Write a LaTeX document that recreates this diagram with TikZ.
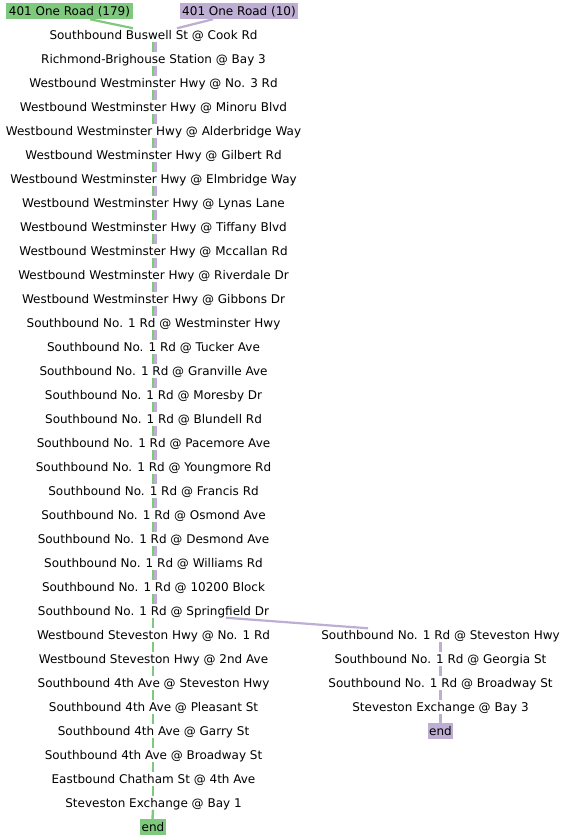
\documentclass[tikz,border=0pt]{standalone}
\usepackage{fontspec}
\setmainfont{DejaVu Sans}
\definecolor{rgreen}{HTML}{7FC97F}
\definecolor{rpurple}{HTML}{BEAED4}
\begin{document}
\begin{tikzpicture}[x=1pt,y=-1pt,
  stop/.style={inner sep=0pt, text height=10.9pt, text depth=2.2pt, font=\fontsize{12}{14}\selectfont},
  hdr/.style={stop, inner xsep=2.5pt, inner ysep=1.5pt},
  endbox/.style={stop, inner xsep=1.2pt, inner ysep=1pt},
  gline/.style={draw=rgreen, line width=2.4pt},
  pline/.style={draw=rpurple, line width=2.4pt}]
\useasboundingbox (0,0) rectangle (567,840);
\node[hdr, fill=rgreen] (hg) at (69.5,11) {401 One Road (179)};
\node[hdr, fill=rpurple] (hp) at (239,11) {401 One Road (10)};
\foreach \t [count=\k] in {
 {Southbound Buswell St @ Cook Rd},
 {Richmond-Brighouse Station @ Bay 3},
 {Westbound Westminster Hwy @ No. 3 Rd},
 {Westbound Westminster Hwy @ Minoru Blvd},
 {Westbound Westminster Hwy @ Alderbridge Way},
 {Westbound Westminster Hwy @ Gilbert Rd},
 {Westbound Westminster Hwy @ Elmbridge Way},
 {Westbound Westminster Hwy @ Lynas Lane},
 {Westbound Westminster Hwy @ Tiffany Blvd},
 {Westbound Westminster Hwy @ Mccallan Rd},
 {Westbound Westminster Hwy @ Riverdale Dr},
 {Westbound Westminster Hwy @ Gibbons Dr},
 {Southbound No. 1 Rd @ Westminster Hwy},
 {Southbound No. 1 Rd @ Tucker Ave},
 {Southbound No. 1 Rd @ Granville Ave},
 {Southbound No. 1 Rd @ Moresby Dr},
 {Southbound No. 1 Rd @ Blundell Rd},
 {Southbound No. 1 Rd @ Pacemore Ave},
 {Southbound No. 1 Rd @ Youngmore Rd},
 {Southbound No. 1 Rd @ Francis Rd},
 {Southbound No. 1 Rd @ Osmond Ave},
 {Southbound No. 1 Rd @ Desmond Ave},
 {Southbound No. 1 Rd @ Williams Rd},
 {Southbound No. 1 Rd @ 10200 Block},
 {Southbound No. 1 Rd @ Springfield Dr},
 {Westbound Steveston Hwy @ No. 1 Rd},
 {Westbound Steveston Hwy @ 2nd Ave},
 {Southbound 4th Ave @ Steveston Hwy},
 {Southbound 4th Ave @ Pleasant St},
 {Southbound 4th Ave @ Garry St},
 {Southbound 4th Ave @ Broadway St},
 {Eastbound Chatham St @ 4th Ave},
 {Steveston Exchange @ Bay 1}}
  \node[stop] (L\k) at (153.5,{11+24*\k}) {\t};
\node[endbox, fill=rgreen] (Lend) at (153,827) {end};
\foreach \t [count=\k] in {
 {Southbound No. 1 Rd @ Steveston Hwy},
 {Southbound No. 1 Rd @ Georgia St},
 {Southbound No. 1 Rd @ Broadway St},
 {Steveston Exchange @ Bay 3}}
  \node[stop] (R\k) at (440.5,{611+24*\k}) {\t};
\node[endbox, fill=rpurple] (Rend) at (440.5,731) {end};
% header edges
\draw[gline, line width=2.2pt] ([xshift=20.5pt]hg.south) -- ([xshift=-20.5pt]L1.north);
\draw[pline, line width=2.2pt] ([xshift=-26pt]hp.south) -- ([xshift=23.5pt]L1.north);
% left column
\foreach \k [evaluate=\k as \n using int(\k+1)] in {1,...,32}
  \draw[gline] ([xshift=-0.5pt]L\k.south) -- ([xshift=-0.5pt]L\n.north);
\draw[gline] ([xshift=-0.5pt]L33.south) -- ([xshift=-0.5pt]Lend.north);
\foreach \k [evaluate=\k as \n using int(\k+1)] in {1,...,24}
  \draw[pline] ([xshift=2pt]L\k.south) -- ([xshift=2pt]L\n.north);
% branch
\draw[pline, line width=2.2pt] ([xshift=72.5pt]L25.south) -- ([xshift=-72.5pt]R1.north);
\foreach \k [evaluate=\k as \n using int(\k+1)] in {1,...,3}
  \draw[pline] (R\k.south) -- (R\n.north);
\draw[pline] (R4.south) -- (Rend.north);
\end{tikzpicture}
\end{document}
